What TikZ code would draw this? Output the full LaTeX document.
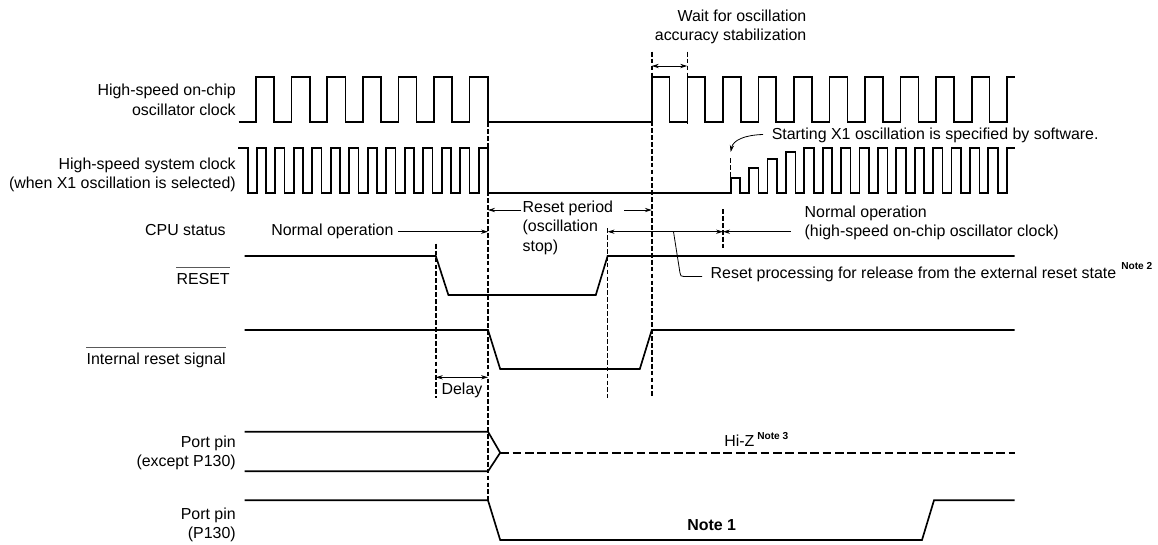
\documentclass[tikz,border=0pt]{standalone}
\usepackage{fontspec}
\setmainfont{Liberation Sans}
\usetikzlibrary{arrows.meta}
\tikzset{
  sig/.style={line width=1.25pt,line join=miter,black},
  guide/.style={line width=1.05pt,dash pattern=on 3.6pt off 1.6pt,black},
  hiz/.style={line width=1.7pt,dash pattern=on 6.6pt off 2.7pt,black},
  dim/.style={line width=0.6pt,black,{Stealth[length=5.2pt,width=3.2pt]}-{Stealth[length=5.2pt,width=3.2pt]}},
  dimr/.style={line width=0.6pt,black,-{Stealth[length=5.2pt,width=3.2pt]}},
  leader/.style={line width=0.6pt,black},
  ovl/.style={line width=0.7pt,black!65},
  txt/.style={inner sep=0pt,font=\fontsize{11.95}{14.6}\selectfont,text=black},
  lab/.style={txt,anchor=east,align=right},
  labl/.style={txt,anchor=west,align=left},
  sm/.style={inner sep=0pt,anchor=west,font=\fontsize{7.6}{9}\selectfont\bfseries,text=black}
}
\begin{document}
\begin{tikzpicture}[x=0.75pt,y=-0.75pt]
\useasboundingbox (0,0) rectangle (1158,544);
% guide lines
\coordinate (g1t) at (435.8,243.7); \coordinate (g1b) at (435.8,397.7);
\coordinate (g2t) at (488,122);     \coordinate (g2b) at (488,500.3);
\coordinate (g3t) at (607.6,228);   \coordinate (g3b) at (607.6,397.7);
\coordinate (g4t) at (651.8,51.7);  \coordinate (g4b) at (651.8,397.7);
\coordinate (g5t) at (687.2,51.7);  \coordinate (g5b) at (687.2,124);
\coordinate (g6t) at (730.7,158);   \coordinate (g6b) at (730.7,178);
\coordinate (g7t) at (723,209);     \coordinate (g7b) at (723,249);
\foreach \g in {1,...,7}{\draw[guide] (g\g t) -- (g\g b);}
% oscillator clock
\draw[sig] (238.6,122)
  \foreach \r in {256,291.6,327.2,362.8,398.4,434,469.6}{ -- (\r,122) -- (\r,76.8) -- ({\r+18.2},76.8) -- ({\r+18.2},122)}
  \foreach \r in {651.8,687.35,722.9,758.45,794,829.55,865.1,900.65,936.2,971.75}{ -- (\r,122) -- (\r,76.8) -- ({\r+17.8},76.8) -- ({\r+17.8},122)}
  -- (1007,122) -- (1007,76.8) -- (1014.5,76.8);
% system clock
\draw[sig] (238,147.7) -- (248.3,147.7) -- (248.3,193.2)
  \foreach \k in {0,...,12}{ -- ({256.7+18.5*\k},193.2) -- ({256.7+18.5*\k},147.7) -- ({266+18.5*\k},147.7) -- ({266+18.5*\k},193.2)}
  \foreach \k/\t in {0/177.7,1/167.7,2/159.3,3/151.7,4/147.7,5/147.7,6/147.7,7/147.7,8/147.7,9/147.7,10/147.7,11/147.7,12/147.7,13/147.7,14/147.7}{
     -- ({730.7+18.4*\k},193.2) -- ({730.7+18.4*\k},\t) -- ({740.2+18.4*\k},\t) -- ({740.2+18.4*\k},193.2)}
  -- (1006.7,193.2) -- (1006.7,147.7) -- (1014.5,147.7);
% RESET
\draw[sig] (244.5,256) -- (435.8,256) -- (448.4,295) -- (595.8,295) -- (607.6,256) -- (1014.5,256);
% internal reset
\draw[sig] (244.5,330) -- (488,330) -- (500.2,369) -- (639.8,369) -- (651.8,330) -- (1014.5,330);
% port pins
\coordinate (hz) at (500.2,452.7);
\draw[sig] (244.5,431.7) -- (488,431.7) -- (hz) -- (488,471.3) -- (244.5,471.3);
\draw[hiz] (hz) -- (1014.5,452.7);
\draw[sig] (244.5,500.3) -- (488,500.3) -- (500.2,540) -- (922,540) -- (934,500.3) -- (1014.5,500.3);
% text
\node[lab] (l1) at (236,100) {High-speed on-chip\\oscillator clock};
\node[lab] (l2) at (236,175) {High-speed system clock\\(when X1 oscillation is selected)};
\node[lab] (l3) at (226,230) {CPU status};
\node[lab] (l4) at (230,279.3) {RESET};
\node[lab] (l5) at (226,360) {Internal reset signal};
\node[lab] (l6) at (236,452.7) {Port pin\\(except P130)};
\node[lab] (l7) at (236,524.7) {Port pin\\(P130)};
\draw[ovl] (l4.north west |- 0,267.7) coordinate (o1a) -- (l4.north east |- 0,267.7);
\draw[ovl] (l5.north west |- 0,347.7) coordinate (o2a) -- (l5.north east |- 0,347.7);
\node[lab] (wt) at (806.6,27) {Wait for oscillation\\accuracy stabilization};
\node[labl] (st) at (771.5,135) {Starting X1 oscillation is specified by software.};
\node[labl] (no) at (271,231.7) {Normal operation};
\node[labl] (rp) at (522.4,227.5) {Reset period\\(oscillation\\stop)};
\node[labl] (nh) at (804.4,223) {Normal operation\\(high-speed on-chip oscillator clock)};
\node[labl] (rs) at (710.4,274.7) {Reset processing for release from the external reset state};
\node[sm] (n2) at (1121,266) {Note 2};
\node[labl] (hi) at (724,441) {Hi-Z};
\node[sm] (n3) at (757,435.7) {Note 3};
\node[labl,font=\fontsize{11.95}{14.6}\selectfont\bfseries] (n1) at (687,524.7) {Note 1};
\node[txt] (dl) at (462,390.7) {Delay};
% dimension arrows
\draw[dim] (g4t |- 0,66) -- (g5t |- 0,66);
\draw[dimr] (rp.west |- 0,210) ++(-1,0) -- (g2t |- 0,210);
\draw[dimr] (624,210) coordinate (rpe) -- (g4t |- 0,210);
\draw[dimr] (no.east) ++(4,0) -- (g2t |- 0,231.7);
\draw[dim] (g3t |- 0,231.7) -- (g7t |- 0,231.7);
\draw[dimr] (nh.west |- 0,231.7) ++(-13.7,0) -- (g7t |- 0,231.7);
\draw[dim] (g1t |- 0,377.3) -- (g2t |- 0,377.3);
\draw[leader] (673.5,231.7) coordinate (la) -- (680,273) .. controls (680.5,276) and (681,276.5) .. (684,276.5) -- (702,276.5);
\draw[line width=0.6pt,black,-{Stealth[length=5.2pt,width=3.2pt]}] (763,134.5) .. controls (745,135) and (733,140) .. (730.7,152);
\end{tikzpicture}
\end{document}
